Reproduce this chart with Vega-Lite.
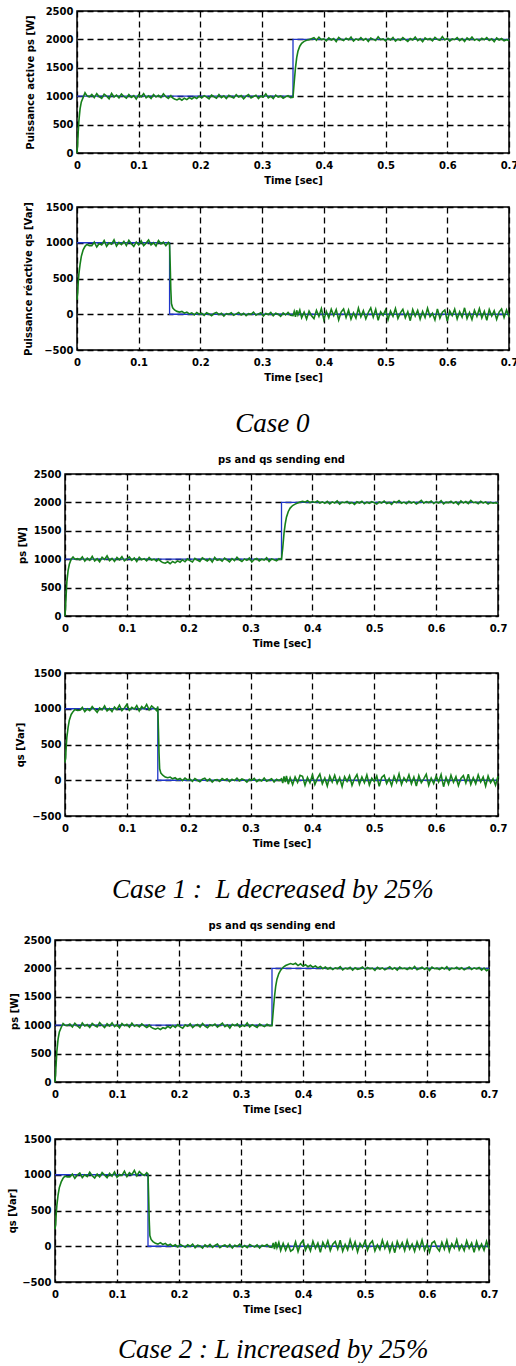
{
"$schema": "https://vega.github.io/schema/vega-lite/v6.json",
"background": "white",
"padding": {"left": 0, "top": 5, "right": 0, "bottom": 0},
"config": {
 "font": "DejaVu Sans",
 "view": {"stroke": null},
 "title": {"font": "DejaVu Sans", "fontSize": 10, "fontWeight": "bold", "color": "#000000"},
 "axis": {"grid": true, "gridColor": "#000000", "gridOpacity": 1, "gridDash": [6, 4], "gridWidth": 1.3, "domain": false, "ticks": false, "labelFont": "DejaVu Sans", "labelFontSize": 10, "labelFontWeight": "bold", "labelColor": "#000000", "titleFont": "DejaVu Sans", "titleFontSize": 10, "titleFontWeight": "bold", "titleColor": "#000000", "labelFlush": false, "labelOverlap": false, "labelBound": false},
 "axisX": {"labelPadding": 7, "titlePadding": 5},
 "axisY": {"labelPadding": 4}
},
"datasets": {
 "ref": [{"i":0,"t":0,"p":1000,"q":1000},{"i":1,"t":0.15,"p":1000,"q":1000},{"i":2,"t":0.15,"p":1000,"q":0},{"i":3,"t":0.35,"p":1000,"q":0},{"i":4,"t":0.35,"p":2000,"q":0},{"i":5,"t":0.7,"p":2000,"q":0}],
 "sim": [
{"t":0,"a":0,"b":200,"c":0,"d":250,"e":0,"f":240},
{"t":0.001,"a":150,"b":280,"c":180,"d":320,"e":160,"f":300},
{"t":0.002,"a":380,"b":450,"c":400,"d":480,"e":350,"f":460},
{"t":0.003,"a":560,"b":560,"c":600,"d":600,"e":540,"f":570},
{"t":0.005,"a":780,"b":700,"c":800,"d":740,"e":760,"f":720},
{"t":0.007,"a":900,"b":810,"c":910,"d":840,"e":880,"f":820},
{"t":0.01,"a":980,"b":900,"c":1000,"d":920,"e":960,"f":900},
{"t":0.013,"a":1060,"b":950,"c":1040,"d":960,"e":1030,"f":950},
{"t":0.016,"a":1010,"b":975,"c":1000,"d":990,"e":1000,"f":980},
{"t":0.02,"a":990,"b":960,"c":1010,"d":975,"e":995,"f":970},
{"t":0.024,"a":1030,"b":960,"c":990,"d":980,"e":1020,"f":970},
{"t":0.028,"a":975,"b":1010,"c":1040,"d":1020,"e":970,"f":1010},
{"t":0.032,"a":1045,"b":940,"c":965,"d":960,"e":1035,"f":950},
{"t":0.036,"a":990,"b":990,"c":1020,"d":1000,"e":990,"f":995},
{"t":0.04,"a":960,"b":970,"c":980,"d":975,"e":950,"f":1025},
{"t":0.044,"a":1035,"b":1030,"c":1050,"d":1030,"e":1040,"f":960},
{"t":0.048,"a":1000,"b":950,"c":970,"d":990,"e":985,"f":1000},
{"t":0.052,"a":955,"b":1000,"c":1010,"d":950,"e":1010,"f":975},
{"t":0.056,"a":1050,"b":980,"c":955,"d":1010,"e":960,"f":1035},
{"t":0.06,"a":985,"b":1040,"c":1035,"d":985,"e":1030,"f":985},
{"t":0.064,"a":1020,"b":955,"c":995,"d":1040,"e":995,"f":955},
{"t":0.068,"a":970,"b":1005,"c":1060,"d":970,"e":970,"f":1010},
{"t":0.072,"a":1040,"b":975,"c":975,"d":1005,"e":1045,"f":970},
{"t":0.076,"a":995,"b":1020,"c":1015,"d":960,"e":1000,"f":1030},
{"t":0.08,"a":965,"b":960,"c":960,"d":1025,"e":960,"f":995},
{"t":0.084,"a":1030,"b":1035,"c":1030,"d":990,"e":1025,"f":960},
{"t":0.088,"a":980,"b":985,"c":990,"d":1050,"e":985,"f":1020},
{"t":0.092,"a":1010,"b":950,"c":1045,"d":975,"e":1040,"f":980},
{"t":0.096,"a":950,"b":1010,"c":970,"d":1010,"e":975,"f":1040},
{"t":0.1,"a":1025,"b":970,"c":1005,"d":1060,"e":1010,"f":965},
{"t":0.104,"a":990,"b":1025,"c":1040,"d":980,"e":955,"f":1005},
{"t":0.108,"a":1045,"b":960,"c":980,"d":1020,"e":1030,"f":990},
{"t":0.112,"a":970,"b":995,"c":1020,"d":995,"e":990,"f":1050},
{"t":0.116,"a":1005,"b":1040,"c":960,"d":1045,"e":1015,"f":975},
{"t":0.12,"a":960,"b":970,"c":1035,"d":970,"e":965,"f":1030},
{"t":0.124,"a":1030,"b":1000,"c":990,"d":1030,"e":1035,"f":1000},
{"t":0.128,"a":985,"b":955,"c":1010,"d":1000,"e":980,"f":1060},
{"t":0.132,"a":1015,"b":1030,"c":970,"d":1060,"e":1005,"f":985},
{"t":0.136,"a":975,"b":985,"c":1030,"d":985,"e":970,"f":1045},
{"t":0.14,"a":1040,"b":1010,"c":985,"d":1040,"e":1025,"f":1010},
{"t":0.144,"a":990,"b":960,"c":1000,"d":1010,"e":990,"f":990},
{"t":0.148,"a":960,"b":1005,"c":965,"d":975,"e":960,"f":1030},
{"t":0.15,"a":985,"b":980,"c":990,"d":1030,"e":975,"f":1010},
{"t":0.151,"a":1000,"b":700,"c":1005,"d":720,"e":995,"f":700},
{"t":0.152,"a":1010,"b":350,"c":995,"d":380,"e":1005,"f":360},
{"t":0.153,"a":990,"b":150,"c":980,"d":160,"e":985,"f":150},
{"t":0.155,"a":970,"b":90,"c":960,"d":100,"e":965,"f":95},
{"t":0.158,"a":950,"b":60,"c":940,"d":70,"e":945,"f":65},
{"t":0.162,"a":935,"b":40,"c":930,"d":45,"e":930,"f":40},
{"t":0.166,"a":960,"b":30,"c":955,"d":35,"e":950,"f":30},
{"t":0.17,"a":930,"b":40,"c":920,"d":45,"e":925,"f":50},
{"t":0.174,"a":965,"b":15,"c":960,"d":20,"e":955,"f":25},
{"t":0.178,"a":940,"b":30,"c":935,"d":35,"e":940,"f":40},
{"t":0.182,"a":975,"b":5,"c":970,"d":10,"e":980,"f":10},
{"t":0.186,"a":950,"b":20,"c":945,"d":25,"e":950,"f":30},
{"t":0.19,"a":985,"b":-10,"c":990,"d":-5,"e":995,"f":0},
{"t":0.194,"a":960,"b":25,"c":955,"d":30,"e":960,"f":20},
{"t":0.198,"a":1000,"b":0,"c":1005,"d":5,"e":1010,"f":-10},
{"t":0.202,"a":970,"b":15,"c":975,"d":15,"e":970,"f":25},
{"t":0.206,"a":1010,"b":-15,"c":950,"d":-15,"e":945,"f":5},
{"t":0.21,"a":985,"b":20,"c":1015,"d":25,"e":1005,"f":-15},
{"t":0.214,"a":955,"b":5,"c":985,"d":0,"e":980,"f":20},
{"t":0.218,"a":1020,"b":-20,"c":960,"d":-20,"e":1025,"f":0},
{"t":0.222,"a":990,"b":10,"c":1025,"d":15,"e":960,"f":30},
{"t":0.226,"a":965,"b":25,"c":995,"d":30,"e":995,"f":-20},
{"t":0.23,"a":1030,"b":-5,"c":970,"d":-10,"e":1015,"f":15},
{"t":0.234,"a":975,"b":15,"c":1010,"d":20,"e":970,"f":5},
{"t":0.238,"a":1005,"b":-25,"c":950,"d":-25,"e":1030,"f":-25},
{"t":0.242,"a":960,"b":10,"c":1030,"d":5,"e":985,"f":20},
{"t":0.246,"a":1015,"b":0,"c":980,"d":10,"e":955,"f":-5},
{"t":0.25,"a":990,"b":20,"c":1000,"d":-15,"e":1010,"f":25},
{"t":0.254,"a":970,"b":-15,"c":965,"d":25,"e":990,"f":-15},
{"t":0.258,"a":1025,"b":5,"c":1020,"d":0,"e":1020,"f":10},
{"t":0.262,"a":985,"b":25,"c":990,"d":20,"e":965,"f":30},
{"t":0.266,"a":1010,"b":-10,"c":955,"d":-20,"e":1000,"f":-20},
{"t":0.27,"a":955,"b":15,"c":1010,"d":15,"e":1035,"f":5},
{"t":0.274,"a":1000,"b":-20,"c":975,"d":-5,"e":975,"f":20},
{"t":0.278,"a":1030,"b":10,"c":1035,"d":30,"e":1005,"f":-10},
{"t":0.282,"a":970,"b":0,"c":990,"d":-10,"e":950,"f":25},
{"t":0.286,"a":995,"b":30,"c":960,"d":20,"e":1015,"f":-25},
{"t":0.29,"a":1015,"b":-15,"c":1005,"d":5,"e":990,"f":15},
{"t":0.294,"a":960,"b":5,"c":980,"d":-25,"e":1025,"f":0},
{"t":0.298,"a":1005,"b":20,"c":1020,"d":15,"e":965,"f":30},
{"t":0.302,"a":985,"b":-25,"c":950,"d":0,"e":1000,"f":-15},
{"t":0.306,"a":1040,"b":10,"c":995,"d":25,"e":980,"f":10},
{"t":0.31,"a":970,"b":-5,"c":1015,"d":-20,"e":1040,"f":-20},
{"t":0.314,"a":1000,"b":25,"c":970,"d":10,"e":970,"f":25},
{"t":0.318,"a":960,"b":-20,"c":1000,"d":-10,"e":1010,"f":5},
{"t":0.322,"a":1020,"b":15,"c":985,"d":30,"e":985,"f":-10},
{"t":0.326,"a":985,"b":0,"c":1025,"d":-15,"e":960,"f":20},
{"t":0.33,"a":1005,"b":-30,"c":960,"d":5,"e":1020,"f":-25},
{"t":0.334,"a":965,"b":20,"c":1005,"d":20,"e":995,"f":15},
{"t":0.338,"a":990,"b":-10,"c":990,"d":-25,"e":975,"f":0},
{"t":0.342,"a":1010,"b":25,"c":970,"d":15,"e":1015,"f":25},
{"t":0.346,"a":975,"b":-15,"c":1010,"d":-5,"e":990,"f":-10},
{"t":0.35,"a":980,"b":-20,"c":1000,"d":20,"e":990,"f":-15},
{"t":0.352,"a":1250,"b":40,"c":1200,"d":-40,"e":1250,"f":45},
{"t":0.354,"a":1500,"b":-35,"c":1450,"d":55,"e":1500,"f":-40},
{"t":0.356,"a":1680,"b":55,"c":1620,"d":-25,"e":1690,"f":60},
{"t":0.358,"a":1790,"b":-10,"c":1740,"d":60,"e":1810,"f":-20},
{"t":0.361,"a":1880,"b":60,"c":1840,"d":-55,"e":1910,"f":55},
{"t":0.364,"a":1930,"b":-50,"c":1900,"d":35,"e":1970,"f":-60},
{"t":0.368,"a":1965,"b":30,"c":1945,"d":-60,"e":2020,"f":40},
{"t":0.372,"a":1985,"b":-65,"c":1970,"d":45,"e":2050,"f":-55},
{"t":0.376,"a":1995,"b":45,"c":1990,"d":-30,"e":2070,"f":30},
{"t":0.38,"a":2010,"b":-20,"c":2005,"d":70,"e":2085,"f":-70},
{"t":0.384,"a":2030,"b":-60,"c":2020,"d":55,"e":2070,"f":-45},
{"t":0.388,"a":1985,"b":55,"c":2005,"d":-70,"e":2090,"f":60},
{"t":0.392,"a":2040,"b":-30,"c":2030,"d":40,"e":2050,"f":-75},
{"t":0.396,"a":1995,"b":80,"c":1995,"d":-35,"e":2080,"f":35},
{"t":0.4,"a":2010,"b":-75,"c":2015,"d":75,"e":2040,"f":80},
{"t":0.404,"a":1975,"b":40,"c":2000,"d":-60,"e":2065,"f":-55},
{"t":0.408,"a":2025,"b":-50,"c":2025,"d":25,"e":2030,"f":20},
{"t":0.412,"a":1990,"b":70,"c":1990,"d":85,"e":2055,"f":-65},
{"t":0.416,"a":2015,"b":-20,"c":2010,"d":-50,"e":2020,"f":70},
{"t":0.42,"a":1960,"b":65,"c":1985,"d":30,"e":2045,"f":-30},
{"t":0.424,"a":2035,"b":-80,"c":2020,"d":-80,"e":2010,"f":45},
{"t":0.428,"a":2000,"b":30,"c":1975,"d":60,"e":2035,"f":-85},
{"t":0.432,"a":1980,"b":75,"c":2010,"d":-25,"e":1995,"f":55},
{"t":0.436,"a":2020,"b":-45,"c":1990,"d":70,"e":2025,"f":-20},
{"t":0.44,"a":1995,"b":60,"c":2025,"d":-45,"e":1990,"f":75},
{"t":0.444,"a":2040,"b":-70,"c":1970,"d":35,"e":2015,"f":-60},
{"t":0.448,"a":1970,"b":20,"c":2005,"d":-90,"e":1980,"f":30},
{"t":0.452,"a":2010,"b":-55,"c":1995,"d":50,"e":2010,"f":65},
{"t":0.456,"a":1990,"b":85,"c":2015,"d":-15,"e":1995,"f":-40},
{"t":0.46,"a":2030,"b":-35,"c":1980,"d":65,"e":2030,"f":85},
{"t":0.464,"a":1985,"b":50,"c":2000,"d":-70,"e":1975,"f":-70},
{"t":0.468,"a":2015,"b":-65,"c":1965,"d":20,"e":2005,"f":25},
{"t":0.472,"a":1965,"b":25,"c":2010,"d":80,"e":1990,"f":-50},
{"t":0.476,"a":2025,"b":90,"c":1990,"d":-55,"e":2020,"f":90},
{"t":0.48,"a":2000,"b":-40,"c":2020,"d":45,"e":1970,"f":-35},
{"t":0.484,"a":1980,"b":70,"c":1975,"d":-35,"e":2010,"f":60},
{"t":0.488,"a":2045,"b":-85,"c":2005,"d":75,"e":1985,"f":-80},
{"t":0.492,"a":1995,"b":35,"c":1985,"d":-65,"e":2000,"f":40},
{"t":0.496,"a":2010,"b":-15,"c":2015,"d":30,"e":2025,"f":-15},
{"t":0.5,"a":1975,"b":60,"c":1995,"d":-20,"e":1980,"f":70},
{"t":0.504,"a":2020,"b":-75,"c":1970,"d":60,"e":2015,"f":-55},
{"t":0.508,"a":1990,"b":45,"c":2010,"d":-85,"e":1995,"f":35},
{"t":0.512,"a":2035,"b":-30,"c":1990,"d":40,"e":2005,"f":75},
{"t":0.516,"a":1970,"b":80,"c":2025,"d":70,"e":1965,"f":-65},
{"t":0.52,"a":2005,"b":-60,"c":1980,"d":-45,"e":2020,"f":20},
{"t":0.524,"a":1985,"b":20,"c":2000,"d":25,"e":1990,"f":-45},
{"t":0.528,"a":2030,"b":70,"c":1965,"d":-75,"e":2010,"f":85},
{"t":0.532,"a":1995,"b":-50,"c":2015,"d":55,"e":1975,"f":-30},
{"t":0.536,"a":1965,"b":35,"c":1995,"d":-30,"e":2000,"f":55},
{"t":0.54,"a":2015,"b":-90,"c":2030,"d":90,"e":2030,"f":-75},
{"t":0.544,"a":1990,"b":65,"c":1985,"d":-60,"e":1985,"f":40},
{"t":0.548,"a":2040,"b":-25,"c":2005,"d":35,"e":2010,"f":-90},
{"t":0.552,"a":1980,"b":55,"c":1975,"d":-20,"e":1970,"f":65},
{"t":0.556,"a":2010,"b":-70,"c":2020,"d":75,"e":2025,"f":-25},
{"t":0.56,"a":1960,"b":40,"c":1990,"d":-50,"e":1995,"f":50},
{"t":0.564,"a":2025,"b":-45,"c":2010,"d":45,"e":2005,"f":-60},
{"t":0.568,"a":1995,"b":85,"c":1970,"d":-80,"e":1980,"f":80},
{"t":0.572,"a":2015,"b":-35,"c":2000,"d":65,"e":2015,"f":-40},
{"t":0.576,"a":1975,"b":15,"c":2035,"d":-35,"e":1990,"f":30},
{"t":0.58,"a":2035,"b":-80,"c":1985,"d":20,"e":2035,"f":-70},
{"t":0.584,"a":2000,"b":75,"c":2015,"d":85,"e":1975,"f":60},
{"t":0.588,"a":1985,"b":-55,"c":1995,"d":-70,"e":2000,"f":-35},
{"t":0.592,"a":2050,"b":30,"c":2025,"d":30,"e":2020,"f":85},
{"t":0.596,"a":1990,"b":60,"c":1980,"d":-45,"e":1985,"f":-55},
{"t":0.6,"a":2020,"b":-95,"c":2010,"d":60,"e":2010,"f":25},
{"t":0.604,"a":1970,"b":45,"c":1990,"d":-25,"e":1965,"f":-80},
{"t":0.608,"a":2010,"b":-20,"c":2030,"d":80,"e":2025,"f":45},
{"t":0.612,"a":1995,"b":70,"c":1975,"d":-90,"e":1995,"f":70},
{"t":0.616,"a":2030,"b":-65,"c":2005,"d":40,"e":2005,"f":-20},
{"t":0.62,"a":1980,"b":35,"c":1995,"d":-55,"e":1980,"f":-65},
{"t":0.624,"a":2015,"b":-40,"c":2020,"d":70,"e":2015,"f":55},
{"t":0.628,"a":1965,"b":90,"c":1985,"d":-30,"e":1990,"f":-40},
{"t":0.632,"a":2025,"b":-60,"c":2010,"d":50,"e":2030,"f":80},
{"t":0.636,"a":1990,"b":25,"c":1965,"d":-75,"e":1970,"f":-70},
{"t":0.64,"a":2040,"b":-75,"c":2025,"d":25,"e":2005,"f":35},
{"t":0.644,"a":1985,"b":55,"c":1990,"d":65,"e":1995,"f":-25},
{"t":0.648,"a":2005,"b":-30,"c":2015,"d":-40,"e":2020,"f":90},
{"t":0.652,"a":1975,"b":80,"c":1980,"d":85,"e":1985,"f":-50},
{"t":0.656,"a":2020,"b":-50,"c":2035,"d":-60,"e":2010,"f":20},
{"t":0.66,"a":1995,"b":40,"c":1995,"d":35,"e":1975,"f":-60},
{"t":0.664,"a":2030,"b":-85,"c":2005,"d":-50,"e":2000,"f":75},
{"t":0.668,"a":1980,"b":65,"c":1975,"d":75,"e":2025,"f":-30},
{"t":0.672,"a":2010,"b":-25,"c":2020,"d":-25,"e":1980,"f":45},
{"t":0.676,"a":1960,"b":50,"c":1990,"d":45,"e":2010,"f":-85},
{"t":0.68,"a":2025,"b":-70,"c":2010,"d":-80,"e":1990,"f":65},
{"t":0.684,"a":1990,"b":30,"c":1970,"d":60,"e":2015,"f":-45},
{"t":0.688,"a":2015,"b":75,"c":2000,"d":-35,"e":1970,"f":30},
{"t":0.692,"a":1975,"b":-45,"c":1985,"d":20,"e":2005,"f":-55},
{"t":0.696,"a":1995,"b":60,"c":1995,"d":-70,"e":1960,"f":70},
{"t":0.7,"a":1980,"b":-35,"c":1980,"d":55,"e":1985,"f":-35}
 ]
},
"spacing": 17,
"vconcat": [
 {
  "title": {"text": "Case 0", "orient": "bottom", "anchor": "middle", "dx": 13, "offset": 28, "font": "Liberation Serif", "fontStyle": "italic", "fontWeight": "normal", "fontSize": 27},
  "spacing": 0,
  "hconcat": [
   {"width": 22, "height": 1, "data": {"values": []}, "mark": "point", "encoding": {}},
   {"spacing": 14, "vconcat": [
    {"width": 432, "height": 142, "view": {"stroke": "black", "strokeWidth": 1.5},
     "encoding": {"x": {"field": "t", "type": "quantitative", "scale": {"domain": [0, 0.7], "nice": false, "zero": false}, "axis": {"values": [0,0.1,0.2,0.3,0.4,0.5,0.6,0.7], "format": ".1~f", "title": "Time [sec]"}}},
     "layer": [
      {"data": {"name": "ref"}, "mark": {"type": "line", "color": "#1f35c9", "strokeWidth": 1.3}, "encoding": {"y": {"field": "p", "type": "quantitative", "scale": {"domain": [0, 2500], "nice": false, "zero": false}, "axis": {"values": [0,500,1000,1500,2000,2500], "format": "d", "title": "Puissance active ps [W]", "titlePadding": 10}}, "order": {"field": "i", "type": "quantitative"}}},
      {"data": {"name": "sim"}, "mark": {"type": "line", "color": "#16801a", "strokeWidth": 1.6}, "encoding": {"y": {"field": "a", "type": "quantitative", "scale": {"domain": [0, 2500], "nice": false, "zero": false}, "axis": {"values": [0,500,1000,1500,2000,2500], "format": "d", "title": "Puissance active ps [W]", "titlePadding": 10}}}}
     ]},
    {"width": 432, "height": 143, "view": {"stroke": "black", "strokeWidth": 1.5},
     "encoding": {"x": {"field": "t", "type": "quantitative", "scale": {"domain": [0, 0.7], "nice": false, "zero": false}, "axis": {"values": [0,0.1,0.2,0.3,0.4,0.5,0.6,0.7], "format": ".1~f", "title": "Time [sec]"}}},
     "layer": [
      {"data": {"name": "ref"}, "mark": {"type": "line", "color": "#1f35c9", "strokeWidth": 1.3}, "encoding": {"y": {"field": "q", "type": "quantitative", "scale": {"domain": [-500, 1500], "nice": false, "zero": false}, "axis": {"values": [-500,0,500,1000,1500], "format": "d", "title": "Puissance réactive qs [Var]", "titlePadding": 10}}, "order": {"field": "i", "type": "quantitative"}}},
      {"data": {"name": "sim"}, "mark": {"type": "line", "color": "#16801a", "strokeWidth": 1.6}, "encoding": {"y": {"field": "b", "type": "quantitative", "scale": {"domain": [-500, 1500], "nice": false, "zero": false}, "axis": {"values": [-500,0,500,1000,1500], "format": "d", "title": "Puissance réactive qs [Var]", "titlePadding": 10}}}}
     ]}
   ]}
  ]
 },
 {
  "title": {"text": "Case 1 :\u00a0 L decreased by 25%", "orient": "bottom", "anchor": "middle", "dx": 19, "offset": 28, "font": "Liberation Serif", "fontStyle": "italic", "fontWeight": "normal", "fontSize": 27},
  "spacing": 0,
  "hconcat": [
   {"width": 14, "height": 1, "data": {"values": []}, "mark": "point", "encoding": {}},
   {"spacing": 18, "vconcat": [
    {"width": 433, "height": 142, "view": {"stroke": "black", "strokeWidth": 1.5},
     "title": {"text": "ps and qs sending end", "frame": "group", "offset": 4},
     "encoding": {"x": {"field": "t", "type": "quantitative", "scale": {"domain": [0, 0.7], "nice": false, "zero": false}, "axis": {"values": [0,0.1,0.2,0.3,0.4,0.5,0.6,0.7], "format": ".1~f", "title": "Time [sec]"}}},
     "layer": [
      {"data": {"name": "ref"}, "mark": {"type": "line", "color": "#1f35c9", "strokeWidth": 1.3}, "encoding": {"y": {"field": "p", "type": "quantitative", "scale": {"domain": [0, 2500], "nice": false, "zero": false}, "axis": {"values": [0,500,1000,1500,2000,2500], "format": "d", "title": "ps [W]", "titlePadding": 6}}, "order": {"field": "i", "type": "quantitative"}}},
      {"data": {"name": "sim"}, "mark": {"type": "line", "color": "#16801a", "strokeWidth": 1.6}, "encoding": {"y": {"field": "c", "type": "quantitative", "scale": {"domain": [0, 2500], "nice": false, "zero": false}, "axis": {"values": [0,500,1000,1500,2000,2500], "format": "d", "title": "ps [W]", "titlePadding": 6}}}}
     ]},
    {"width": 433, "height": 143, "view": {"stroke": "black", "strokeWidth": 1.5},
     "encoding": {"x": {"field": "t", "type": "quantitative", "scale": {"domain": [0, 0.7], "nice": false, "zero": false}, "axis": {"values": [0,0.1,0.2,0.3,0.4,0.5,0.6,0.7], "format": ".1~f", "title": "Time [sec]"}}},
     "layer": [
      {"data": {"name": "ref"}, "mark": {"type": "line", "color": "#1f35c9", "strokeWidth": 1.3}, "encoding": {"y": {"field": "q", "type": "quantitative", "scale": {"domain": [-500, 1500], "nice": false, "zero": false}, "axis": {"values": [-500,0,500,1000,1500], "format": "d", "title": "qs [Var]", "titlePadding": 6}}, "order": {"field": "i", "type": "quantitative"}}},
      {"data": {"name": "sim"}, "mark": {"type": "line", "color": "#16801a", "strokeWidth": 1.6}, "encoding": {"y": {"field": "d", "type": "quantitative", "scale": {"domain": [-500, 1500], "nice": false, "zero": false}, "axis": {"values": [-500,0,500,1000,1500], "format": "d", "title": "qs [Var]", "titlePadding": 6}}}}
     ]}
   ]}
  ]
 },
 {
  "title": {"text": "Case 2 : L increased by 25%", "orient": "bottom", "anchor": "middle", "dx": 24, "offset": 22, "font": "Liberation Serif", "fontStyle": "italic", "fontWeight": "normal", "fontSize": 27},
  "spacing": 0,
  "hconcat": [
   {"width": 6, "height": 1, "data": {"values": []}, "mark": "point", "encoding": {}},
   {"spacing": 18, "vconcat": [
    {"width": 434, "height": 142, "view": {"stroke": "black", "strokeWidth": 1.5},
     "title": {"text": "ps and qs sending end", "frame": "group", "offset": 4},
     "encoding": {"x": {"field": "t", "type": "quantitative", "scale": {"domain": [0, 0.7], "nice": false, "zero": false}, "axis": {"values": [0,0.1,0.2,0.3,0.4,0.5,0.6,0.7], "format": ".1~f", "title": "Time [sec]"}}},
     "layer": [
      {"data": {"name": "ref"}, "mark": {"type": "line", "color": "#1f35c9", "strokeWidth": 1.3}, "encoding": {"y": {"field": "p", "type": "quantitative", "scale": {"domain": [0, 2500], "nice": false, "zero": false}, "axis": {"values": [0,500,1000,1500,2000,2500], "format": "d", "title": "ps [W]", "titlePadding": 4}}, "order": {"field": "i", "type": "quantitative"}}},
      {"data": {"name": "sim"}, "mark": {"type": "line", "color": "#16801a", "strokeWidth": 1.6}, "encoding": {"y": {"field": "e", "type": "quantitative", "scale": {"domain": [0, 2500], "nice": false, "zero": false}, "axis": {"values": [0,500,1000,1500,2000,2500], "format": "d", "title": "ps [W]", "titlePadding": 4}}}}
     ]},
    {"width": 434, "height": 143, "view": {"stroke": "black", "strokeWidth": 1.5},
     "encoding": {"x": {"field": "t", "type": "quantitative", "scale": {"domain": [0, 0.7], "nice": false, "zero": false}, "axis": {"values": [0,0.1,0.2,0.3,0.4,0.5,0.6,0.7], "format": ".1~f", "title": "Time [sec]"}}},
     "layer": [
      {"data": {"name": "ref"}, "mark": {"type": "line", "color": "#1f35c9", "strokeWidth": 1.3}, "encoding": {"y": {"field": "q", "type": "quantitative", "scale": {"domain": [-500, 1500], "nice": false, "zero": false}, "axis": {"values": [-500,0,500,1000,1500], "format": "d", "title": "qs [Var]", "titlePadding": 4}}, "order": {"field": "i", "type": "quantitative"}}},
      {"data": {"name": "sim"}, "mark": {"type": "line", "color": "#16801a", "strokeWidth": 1.6}, "encoding": {"y": {"field": "f", "type": "quantitative", "scale": {"domain": [-500, 1500], "nice": false, "zero": false}, "axis": {"values": [-500,0,500,1000,1500], "format": "d", "title": "qs [Var]", "titlePadding": 4}}}}
     ]}
   ]}
  ]
 }
]
}
